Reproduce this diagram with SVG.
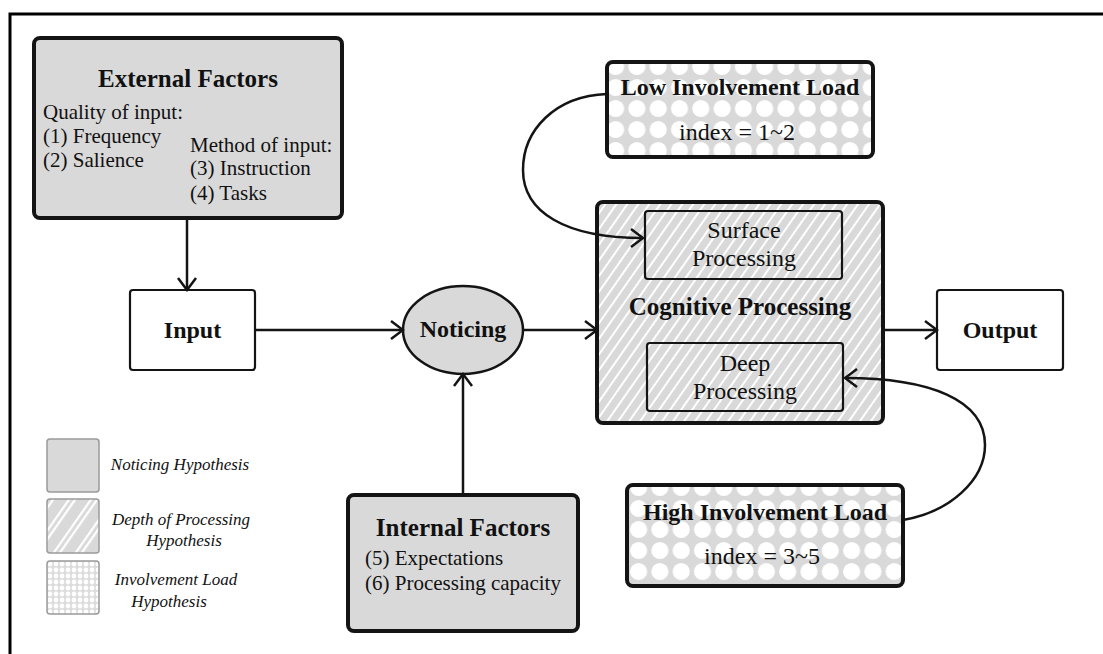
<svg xmlns="http://www.w3.org/2000/svg" width="1103" height="654" viewBox="0 0 1103 654">
  <style>
    .t { font-family: "Liberation Serif", "Times New Roman", serif; fill: #111; }
    .b { font-weight: bold; }
    .i { font-style: italic; }
    .thick { stroke: #141414; stroke-width: 4; }
    .thin { stroke: #141414; stroke-width: 2.2; }
    .conn { fill: none; stroke: #141414; stroke-width: 2.5; marker-end: url(#arrow); }
    .leg { stroke: #9a9a9a; stroke-width: 1.5; }
  </style>
  <defs>
    <marker id="arrow" markerUnits="userSpaceOnUse" viewBox="-15 -12 17 24" refX="0" refY="0" markerWidth="17" markerHeight="24" orient="auto">
      <path d="M-12,-9 L0,0 L-12,9" fill="none" stroke="#141414" stroke-width="2.5"/>
    </marker>
    <!-- diagonal white hatching on grey -->
    <pattern id="hatch" width="9" height="9" patternUnits="userSpaceOnUse" patternTransform="rotate(35)">
      <rect width="9" height="9" fill="#d9d9d9"/>
      <rect x="0" width="2" height="9" fill="#ffffff"/>
    </pattern>
    <pattern id="hatchLegend" width="18" height="18" patternUnits="userSpaceOnUse" patternTransform="rotate(35)">
      <rect width="18" height="18" fill="#d9d9d9"/>
      <rect x="0" width="2.2" height="18" fill="#ffffff"/>
      <rect x="5" width="2.2" height="18" fill="#ffffff"/>
    </pattern>
    <!-- white dots on grey -->
    <pattern id="dots" x="605" y="56" width="21.3" height="21" patternUnits="userSpaceOnUse">
      <rect width="21.3" height="21" fill="#d9d9d9"/>
      <circle cx="10.6" cy="10.5" r="8.6" fill="#ffffff"/>
    </pattern>
    <pattern id="dotsHigh" x="628" y="477" width="21.3" height="21" patternUnits="userSpaceOnUse">
      <rect width="21.3" height="21" fill="#d9d9d9"/>
      <circle cx="10.6" cy="10.5" r="8.6" fill="#ffffff"/>
    </pattern>
    <pattern id="mesh" x="47" y="561" width="6" height="6" patternUnits="userSpaceOnUse">
      <rect width="6" height="6" fill="#dcdcdc"/>
      <circle cx="3" cy="3" r="2.4" fill="#ffffff"/>
    </pattern>
  </defs>

  <!-- frame -->
  <path d="M10,654 V14 H1103" fill="none" stroke="#000" stroke-width="3"/>

  <g id="external-factors">
    <rect class="thick" x="34" y="38" width="308" height="180" rx="6" fill="#d9d9d9"/>
    <text class="t b" x="188" y="87" font-size="25" text-anchor="middle">External Factors</text>
    <text class="t" x="43" y="119" font-size="21">Quality of input:</text>
    <text class="t" x="43" y="143" font-size="21">(1) Frequency</text>
    <text class="t" x="43" y="167" font-size="21">(2) Salience</text>
    <text class="t" x="190" y="152" font-size="21">Method of input:</text>
    <text class="t" x="190" y="175" font-size="21">(3) Instruction</text>
    <text class="t" x="190" y="200" font-size="21">(4) Tasks</text>
  </g>

  <g id="input">
    <rect class="thin" x="130" y="290" width="125" height="80" rx="3" fill="#fff"/>
    <text class="t b" x="192.5" y="338" font-size="24" text-anchor="middle">Input</text>
  </g>

  <g id="noticing">
    <ellipse cx="463" cy="330" rx="60" ry="44" fill="#d9d9d9" stroke="#141414" stroke-width="2.5"/>
    <text class="t b" x="463" y="337" font-size="24" text-anchor="middle">Noticing</text>
  </g>

  <g id="internal-factors">
    <rect class="thick" x="348" y="495" width="230" height="136" rx="6" fill="#d9d9d9"/>
    <text class="t b" x="463" y="536" font-size="25" text-anchor="middle">Internal Factors</text>
    <text class="t" x="365" y="565" font-size="21">(5) Expectations</text>
    <text class="t" x="365" y="590" font-size="21">(6) Processing capacity</text>
  </g>

  <g id="low-involvement">
    <rect class="thick" x="607" y="62" width="266" height="95" rx="6" fill="url(#dots)"/>
    <text class="t b" x="740" y="95" font-size="24" text-anchor="middle">Low Involvement Load</text>
    <text class="t" x="737" y="140" font-size="24" text-anchor="middle">index = 1~2</text>
  </g>

  <g id="cognitive-processing">
    <rect class="thick" x="597" y="202" width="286" height="221" rx="6" fill="url(#hatch)"/>
    <text class="t b" x="740" y="315" font-size="25" text-anchor="middle">Cognitive Processing</text>
  </g>

  <g id="surface-processing">
    <rect class="thin" x="645" y="211" width="197" height="68" rx="3" fill="none"/>
    <text class="t" x="744" y="238" font-size="24" text-anchor="middle">Surface</text>
    <text class="t" x="744" y="266" font-size="24" text-anchor="middle">Processing</text>
  </g>

  <g id="deep-processing">
    <rect class="thin" x="647" y="343" width="196" height="68" rx="3" fill="none"/>
    <text class="t" x="745" y="371" font-size="24" text-anchor="middle">Deep</text>
    <text class="t" x="745" y="399" font-size="24" text-anchor="middle">Processing</text>
  </g>

  <g id="high-involvement">
    <rect class="thick" x="627" y="485" width="276" height="101" rx="6" fill="url(#dotsHigh)"/>
    <text class="t b" x="765" y="520" font-size="24" text-anchor="middle">High Involvement Load</text>
    <text class="t" x="762" y="564" font-size="24" text-anchor="middle">index = 3~5</text>
  </g>

  <g id="output">
    <rect class="thin" x="937" y="290" width="126" height="80" rx="3" fill="#fff"/>
    <text class="t b" x="1000" y="338" font-size="24" text-anchor="middle">Output</text>
  </g>

  <g id="legend">
    <rect class="leg" x="47" y="439" width="52" height="53" rx="3" fill="#d9d9d9"/>
    <rect class="leg" x="47" y="499" width="52" height="54" rx="3" fill="url(#hatchLegend)"/>
    <rect class="leg" x="47" y="561" width="52" height="53" rx="3" fill="url(#mesh)"/>
    <text class="t i" x="180" y="470" font-size="17" text-anchor="middle">Noticing Hypothesis</text>
    <text class="t i" x="181" y="525" font-size="17" text-anchor="middle">Depth of Processing</text>
    <text class="t i" x="184" y="546" font-size="17" text-anchor="middle">Hypothesis</text>
    <text class="t i" x="176" y="585" font-size="17" text-anchor="middle">Involvement Load</text>
    <text class="t i" x="169" y="607" font-size="17" text-anchor="middle">Hypothesis</text>
  </g>

  <g id="connectors">
    <path class="conn" d="M187,218 V290"/>
    <path class="conn" d="M255,330 H403"/>
    <path class="conn" d="M463,495 V374"/>
    <path class="conn" d="M523,330 H597"/>
    <path class="conn" d="M883,330 H937"/>
    <path class="conn" d="M607,94 C555,96 523,130 523,170 C523,212 565,238 643,238"/>
    <path class="conn" d="M903,520 C950,512 985,480 985,445 C985,400 930,378 845,378"/>
  </g>
</svg>
